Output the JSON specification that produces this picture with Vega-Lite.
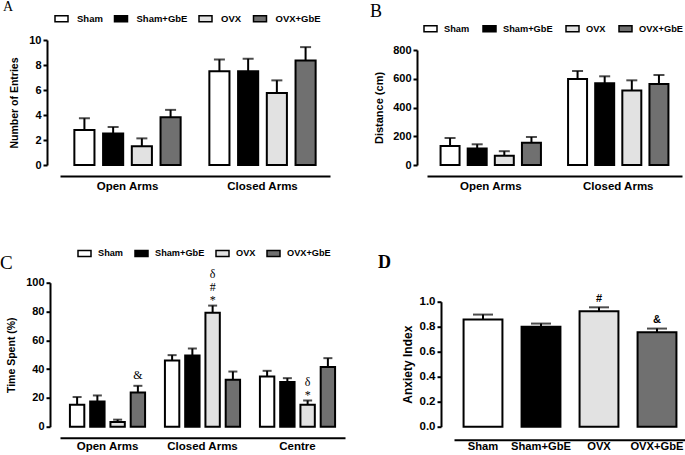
{
  "$schema": "https://vega.github.io/schema/vega-lite/v6.json",
  "autosize": {"type": "none"},
  "padding": {"left": 60, "top": 40, "right": 625, "bottom": 415},
  "background": "white",
  "config": {
    "view": {"stroke": null},
    "font": "Liberation Sans",
    "axis": {"domainColor": "black", "domainWidth": 2, "tickColor": "black", "tickWidth": 2, "tickSize": 4, "labelColor": "black", "labelFont": "Liberation Sans", "labelFontWeight": "bold", "labelFontSize": 11, "labelPadding": 2, "titleColor": "black", "titleFont": "Liberation Sans", "titleFontWeight": "bold", "grid": false},
    "axisX": {"ticks": false, "tickSize": 0, "labelAngle": 0, "title": null, "labelFontSize": 11.5},
    "legend": {"orient": "none", "direction": "horizontal", "columns": 4, "title": null, "padding": 0, "symbolType": "M-1,-0.45H1V0.45H-1Z", "symbolSize": 169, "symbolStrokeColor": "black", "symbolStrokeWidth": 1.5, "labelFont": "Liberation Sans", "labelFontWeight": "bold", "labelFontSize": 9.5, "labelColor": "black", "labelOffset": 8, "columnPadding": 11},
    "title": {"font": "Liberation Serif", "fontWeight": "normal", "color": "black", "anchor": "start", "frame": "group", "baseline": "alphabetic", "offset": 0}
  },
  "resolve": {"scale": {"xOffset": "independent", "fill": "independent"}, "legend": {"fill": "independent"}},
  "vconcat": [
    {
      "resolve": {"scale": {"xOffset": "independent", "fill": "independent"}, "legend": {"fill": "independent"}},
      "hconcat": [
        {
          "width": 270, "height": 125,
          "title": {"text": "A", "fontSize": 14, "dx": -57, "dy": 7},
          "data": {"values": [
            {"arm": "Open Arms", "group": "Sham", "mean": 2.8, "upper": 3.74},
            {"arm": "Open Arms", "group": "Sham+GbE", "mean": 2.53, "upper": 3.04},
            {"arm": "Open Arms", "group": "OVX", "mean": 1.51, "upper": 2.13},
            {"arm": "Open Arms", "group": "OVX+GbE", "mean": 3.82, "upper": 4.41},
            {"arm": "Closed Arms", "group": "Sham", "mean": 7.5, "upper": 8.44},
            {"arm": "Closed Arms", "group": "Sham+GbE", "mean": 7.5, "upper": 8.5},
            {"arm": "Closed Arms", "group": "OVX", "mean": 5.76, "upper": 6.77},
            {"arm": "Closed Arms", "group": "OVX+GbE", "mean": 8.36, "upper": 9.43}
          ]},
          "encoding": {
            "x": {"field": "arm", "type": "nominal", "sort": ["Open Arms", "Closed Arms"], "scale": {"paddingInner": 0, "paddingOuter": 0}, "axis": {"offset": 11, "labelPadding": 4}},
            "xOffset": {"field": "group", "type": "nominal", "sort": ["Sham", "Sham+GbE", "OVX", "OVX+GbE"], "scale": {"paddingInner": 0.3, "paddingOuter": 0.5}}
          },
          "layer": [
            {"mark": {"type": "bar", "stroke": "black", "strokeWidth": 2},
             "encoding": {
               "y": {"field": "mean", "type": "quantitative", "scale": {"domain": [0, 10]}, "axis": {"title": "Number of Entries", "values": [0, 2, 4, 6, 8, 10], "offset": 13, "titlePadding": 9, "titleFontSize": 10.5}},
               "fill": {"field": "group", "type": "nominal", "scale": {"domain": ["Sham", "Sham+GbE", "OVX", "OVX+GbE"], "range": ["#ffffff", "#000000", "#e2e2e2", "#707070"]}, "legend": {"legendX": -6, "legendY": -29, "columnPadding": 8.5}}
             }},
            {"mark": {"type": "rule", "color": "black", "strokeWidth": 2},
             "encoding": {"y": {"field": "mean", "type": "quantitative", "scale": {"domain": [0, 10]}, "axis": {"title": "Number of Entries", "values": [0, 2, 4, 6, 8, 10], "offset": 13, "titlePadding": 9, "titleFontSize": 10.5}}, "y2": {"field": "upper"}}},
            {"mark": {"type": "tick", "color": "black", "thickness": 2, "size": 11},
             "encoding": {"y": {"field": "upper", "type": "quantitative", "scale": {"domain": [0, 10]}, "axis": {"title": "Number of Entries", "values": [0, 2, 4, 6, 8, 10], "offset": 13, "titlePadding": 9, "titleFontSize": 10.5}}}}
          ]
        },
        {
          "resolve": {"scale": {"xOffset": "independent", "fill": "independent"}, "legend": {"fill": "independent"}},
          "vconcat": [
            {"width": 255, "height": 10, "data": {"values": [{}]}, "mark": {"type": "point", "opacity": 0}, "encoding": {}},
            {
              "width": 255, "height": 115,
              "title": {"text": "B", "fontSize": 18, "dx": -57, "dy": 4},
              "data": {"values": [
                {"arm": "Open Arms", "group": "Sham", "mean": 133, "upper": 188},
                {"arm": "Open Arms", "group": "Sham+GbE", "mean": 114, "upper": 144},
                {"arm": "Open Arms", "group": "OVX", "mean": 65, "upper": 96},
                {"arm": "Open Arms", "group": "OVX+GbE", "mean": 154, "upper": 195},
                {"arm": "Closed Arms", "group": "Sham", "mean": 598, "upper": 654},
                {"arm": "Closed Arms", "group": "Sham+GbE", "mean": 568, "upper": 617},
                {"arm": "Closed Arms", "group": "OVX", "mean": 519, "upper": 589},
                {"arm": "Closed Arms", "group": "OVX+GbE", "mean": 563, "upper": 626}
              ]},
              "encoding": {
                "x": {"field": "arm", "type": "nominal", "sort": ["Open Arms", "Closed Arms"], "scale": {"paddingInner": 0, "paddingOuter": 0}, "axis": {"offset": 11, "labelPadding": 4}},
                "xOffset": {"field": "group", "type": "nominal", "sort": ["Sham", "Sham+GbE", "OVX", "OVX+GbE"], "scale": {"paddingInner": 0.3, "paddingOuter": 0.5}}
              },
              "layer": [
                {"mark": {"type": "bar", "stroke": "black", "strokeWidth": 2},
                 "encoding": {
                   "y": {"field": "mean", "type": "quantitative", "scale": {"domain": [0, 800]}, "axis": {"title": "Distance (cm)", "values": [0, 200, 400, 600, 800], "offset": 10, "titlePadding": 8, "titleFontSize": 11}},
                   "fill": {"field": "group", "type": "nominal", "scale": {"domain": ["Sham", "Sham+GbE", "OVX", "OVX+GbE"], "range": ["#ffffff", "#000000", "#e2e2e2", "#707070"]}, "legend": {"legendX": -4, "legendY": -29, "labelOffset": 6, "columnPadding": 10, "labelFontSize": 9.25}}
                 }},
                {"mark": {"type": "rule", "color": "black", "strokeWidth": 2},
                 "encoding": {"y": {"field": "mean", "type": "quantitative", "scale": {"domain": [0, 800]}, "axis": {"title": "Distance (cm)", "values": [0, 200, 400, 600, 800], "offset": 10, "titlePadding": 8, "titleFontSize": 11}}, "y2": {"field": "upper"}}},
                {"mark": {"type": "tick", "color": "black", "thickness": 2, "size": 11},
                 "encoding": {"y": {"field": "upper", "type": "quantitative", "scale": {"domain": [0, 800]}, "axis": {"title": "Distance (cm)", "values": [0, 200, 400, 600, 800], "offset": 10, "titlePadding": 8, "titleFontSize": 11}}}}
              ]
            }
          ],
          "spacing": 0,
          "bounds": "flush"
        }
      ],
      "spacing": 97,
      "bounds": "flush"
    },
    {
      "resolve": {"scale": {"xOffset": "independent", "fill": "independent"}, "legend": {"fill": "independent"}},
      "hconcat": [
        {
          "width": 285, "height": 144,
          "title": {"text": "C", "fontSize": 19, "dx": -60, "dy": 31.5},
          "data": {"values": [
            {"arm": "Open Arms", "group": "Sham", "mean": 15.2, "upper": 20.6, "note": ""},
            {"arm": "Open Arms", "group": "Sham+GbE", "mean": 17.5, "upper": 21.7, "note": ""},
            {"arm": "Open Arms", "group": "OVX", "mean": 3.2, "upper": 4.9, "note": ""},
            {"arm": "Open Arms", "group": "OVX+GbE", "mean": 23.8, "upper": 28.4, "note": "&"},
            {"arm": "Closed Arms", "group": "Sham", "mean": 46, "upper": 49.7, "note": ""},
            {"arm": "Closed Arms", "group": "Sham+GbE", "mean": 49.4, "upper": 54.3, "note": ""},
            {"arm": "Closed Arms", "group": "OVX", "mean": 79.2, "upper": 84.1, "note": "δ\n#\n*"},
            {"arm": "Closed Arms", "group": "OVX+GbE", "mean": 32.6, "upper": 38.3, "note": ""},
            {"arm": "Centre", "group": "Sham", "mean": 34.9, "upper": 38.8, "note": ""},
            {"arm": "Centre", "group": "Sham+GbE", "mean": 31, "upper": 33.7, "note": ""},
            {"arm": "Centre", "group": "OVX", "mean": 15.2, "upper": 18.2, "note": "δ\n*"},
            {"arm": "Centre", "group": "OVX+GbE", "mean": 41.4, "upper": 47.6, "note": ""}
          ]},
          "encoding": {
            "x": {"field": "arm", "type": "nominal", "sort": ["Open Arms", "Closed Arms", "Centre"], "scale": {"paddingInner": 0, "paddingOuter": 0}, "axis": {"offset": 11, "labelPadding": 3}},
            "xOffset": {"field": "group", "type": "nominal", "sort": ["Sham", "Sham+GbE", "OVX", "OVX+GbE"], "scale": {"paddingInner": 0.29, "paddingOuter": 0.49}}
          },
          "layer": [
            {"mark": {"type": "bar", "stroke": "black", "strokeWidth": 2},
             "encoding": {
               "y": {"field": "mean", "type": "quantitative", "scale": {"domain": [0, 100]}, "axis": {"title": "Time Spent (%)", "values": [0, 20, 40, 60, 80, 100], "offset": 10, "titlePadding": 9, "titleFontSize": 10.5}},
               "fill": {"field": "group", "type": "nominal", "scale": {"domain": ["Sham", "Sham+GbE", "OVX", "OVX+GbE"], "range": ["#ffffff", "#000000", "#e2e2e2", "#707070"]}, "legend": {"legendX": 17, "legendY": -37, "labelOffset": 6, "columnPadding": 8, "labelFontSize": 9.2}}
             }},
            {"mark": {"type": "rule", "color": "black", "strokeWidth": 2},
             "encoding": {"y": {"field": "mean", "type": "quantitative", "scale": {"domain": [0, 100]}, "axis": {"title": "Time Spent (%)", "values": [0, 20, 40, 60, 80, 100], "offset": 10, "titlePadding": 9, "titleFontSize": 10.5}}, "y2": {"field": "upper"}}},
            {"mark": {"type": "tick", "color": "black", "thickness": 2, "size": 9},
             "encoding": {"y": {"field": "upper", "type": "quantitative", "scale": {"domain": [0, 100]}, "axis": {"title": "Time Spent (%)", "values": [0, 20, 40, 60, 80, 100], "offset": 10, "titlePadding": 9, "titleFontSize": 10.5}}}},
            {"transform": [{"filter": "indexof(datum.note, '#') >= 0"}],
             "mark": {"type": "text", "font": "Liberation Serif", "fontSize": 12, "color": "black", "baseline": "bottom", "lineBreak": "\n", "lineHeight": 13, "dy": -24.4},
             "encoding": {"y": {"field": "upper", "type": "quantitative", "scale": {"domain": [0, 100]}, "axis": {"title": "Time Spent (%)", "values": [0, 20, 40, 60, 80, 100], "offset": 10, "titlePadding": 9, "titleFontSize": 10.5}}, "text": {"field": "note"}}},
            {"transform": [{"filter": "indexof(datum.note, '*') >= 0 && indexof(datum.note, '#') < 0"}],
             "mark": {"type": "text", "font": "Liberation Serif", "fontSize": 12, "color": "black", "baseline": "bottom", "lineBreak": "\n", "lineHeight": 13, "dy": -11.4},
             "encoding": {"y": {"field": "upper", "type": "quantitative", "scale": {"domain": [0, 100]}, "axis": {"title": "Time Spent (%)", "values": [0, 20, 40, 60, 80, 100], "offset": 10, "titlePadding": 9, "titleFontSize": 10.5}}, "text": {"field": "note"}}},
            {"transform": [{"filter": "datum.note == '&'"}],
             "mark": {"type": "text", "font": "Liberation Serif", "fontSize": 12, "color": "black", "baseline": "bottom", "dy": -3.5},
             "encoding": {"y": {"field": "upper", "type": "quantitative", "scale": {"domain": [0, 100]}, "axis": {"title": "Time Spent (%)", "values": [0, 20, 40, 60, 80, 100], "offset": 10, "titlePadding": 9, "titleFontSize": 10.5}}, "text": {"field": "note"}}}
          ]
        },
        {
          "resolve": {"scale": {"xOffset": "independent", "fill": "independent"}, "legend": {"fill": "independent"}},
          "vconcat": [
            {"width": 232, "height": 19, "data": {"values": [{}]}, "mark": {"type": "point", "opacity": 0}, "encoding": {}},
            {
              "width": 232, "height": 125,
              "title": {"text": "D", "fontSize": 18, "fontWeight": "bold", "dx": -76, "dy": -17},
              "data": {"values": [
                {"group": "Sham", "mean": 0.857, "upper": 0.897, "note": ""},
                {"group": "Sham+GbE", "mean": 0.8, "upper": 0.825, "note": ""},
                {"group": "OVX", "mean": 0.923, "upper": 0.955, "note": "#"},
                {"group": "OVX+GbE", "mean": 0.756, "upper": 0.785, "note": "&"}
              ]},
              "encoding": {
                "x": {"field": "group", "type": "nominal", "sort": ["Sham", "Sham+GbE", "OVX", "OVX+GbE"], "scale": {"paddingInner": 0.33, "paddingOuter": 0.165}, "axis": {"offset": 13, "labelPadding": 1, "labelFontSize": 11.2}}
              },
              "layer": [
                {"mark": {"type": "bar", "stroke": "black", "strokeWidth": 2},
                 "encoding": {
                   "y": {"field": "mean", "type": "quantitative", "scale": {"domain": [0, 1]}, "axis": {"title": "Anxiety Index", "values": [0, 0.2, 0.4, 0.6, 0.8, 1], "format": ".1f", "offset": 13, "titlePadding": 5, "titleFontSize": 12, "labelFontSize": 11.5}},
                   "fill": {"field": "group", "type": "nominal", "scale": {"domain": ["Sham", "Sham+GbE", "OVX", "OVX+GbE"], "range": ["#ffffff", "#000000", "#e2e2e2", "#707070"]}, "legend": null}
                 }},
                {"mark": {"type": "rule", "color": "black", "strokeWidth": 2},
                 "encoding": {"y": {"field": "mean", "type": "quantitative", "scale": {"domain": [0, 1]}, "axis": {"title": "Anxiety Index", "values": [0, 0.2, 0.4, 0.6, 0.8, 1], "format": ".1f", "offset": 13, "titlePadding": 5, "titleFontSize": 12, "labelFontSize": 11.5}}, "y2": {"field": "upper"}}},
                {"mark": {"type": "tick", "color": "black", "thickness": 2, "size": 20},
                 "encoding": {"y": {"field": "upper", "type": "quantitative", "scale": {"domain": [0, 1]}, "axis": {"title": "Anxiety Index", "values": [0, 0.2, 0.4, 0.6, 0.8, 1], "format": ".1f", "offset": 13, "titlePadding": 5, "titleFontSize": 12, "labelFontSize": 11.5}}}},
                {"mark": {"type": "text", "font": "Liberation Sans", "fontWeight": "bold", "fontSize": 11, "color": "black", "baseline": "bottom", "dy": -3.5},
                 "encoding": {"y": {"field": "upper", "type": "quantitative", "scale": {"domain": [0, 1]}, "axis": {"title": "Anxiety Index", "values": [0, 0.2, 0.4, 0.6, 0.8, 1], "format": ".1f", "offset": 13, "titlePadding": 5, "titleFontSize": 12, "labelFontSize": 11.5}}, "text": {"field": "note"}}}
              ]
            }
          ],
          "spacing": 0,
          "bounds": "flush"
        }
      ],
      "spacing": 109,
      "bounds": "flush"
    }
  ],
  "spacing": 242.7,
  "bounds": "flush"
}
